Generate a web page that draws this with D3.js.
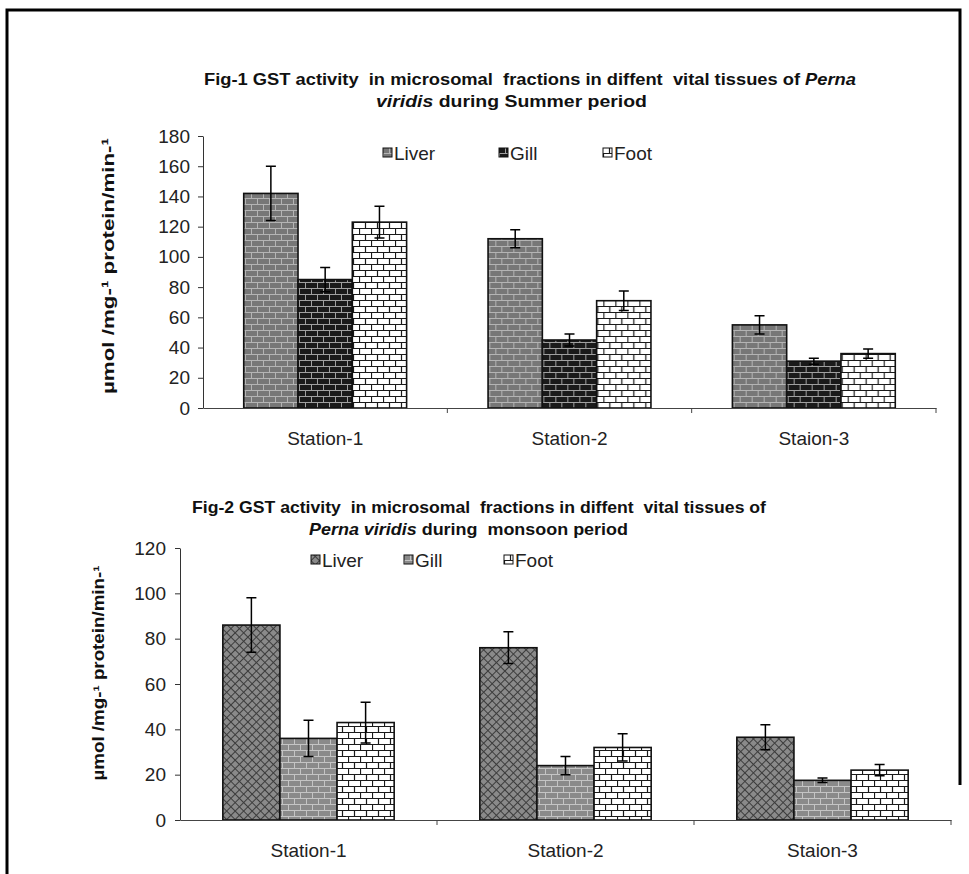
<!DOCTYPE html>
<html><head><meta charset="utf-8">
<script src="https://cdn.jsdelivr.net/npm/d3@7"></script>
<style>body{margin:0;background:#fff}</style>
</head><body><svg id="c" width="969" height="874"></svg>
<script>
// ---------- data ----------
const categories = ["Station-1", "Station-2", "Staion-3"];
const seriesNames = ["Liver", "Gill", "Foot"];

const summerLiver = [142, 112, 55];
const summerGill  = [85, 45, 31];
const summerFoot  = [123, 71, 36];
const summerLiverErr = [18, 6, 6];
const summerGillErr  = [8, 4, 2];
const summerFootErr  = [10.5, 6.5, 3];
const summerTicks = [0, 20, 40, 60, 80, 100, 120, 140, 160, 180];

const monsoonLiver = [86, 76, 36.5];
const monsoonGill  = [36, 24, 17.5];
const monsoonFoot  = [43, 32, 22];
const monsoonLiverErr = [12, 7, 5.5];
const monsoonGillErr  = [8, 4, 1];
const monsoonFootErr  = [9, 6, 2.5];
const monsoonTicks = [0, 20, 40, 60, 80, 100, 120];

const yLabel = "µmol /mg-¹ protein/min-¹";

// ---------- drawing ----------
const svg = d3.select("#c");
const FONT = "'Liberation Sans', Arial, sans-serif";
const defs = svg.append("defs");

function brick(id, fill, mortar, w, h, sw) {
  const p = defs.append("pattern").attr("id", id).attr("patternUnits", "userSpaceOnUse")
    .attr("width", w).attr("height", h * 2);
  p.append("rect").attr("width", w).attr("height", h * 2).attr("fill", fill);
  p.append("path")
    .attr("d", `M0,0.5H${w}M0,${h + 0.5}H${w}M0.5,0V${h}M${w / 2 + 0.5},${h}V${2 * h}`)
    .attr("stroke", mortar).attr("stroke-width", sw).attr("fill", "none");
}
function cross(id, fill, line, s) {
  const p = defs.append("pattern").attr("id", id).attr("patternUnits", "userSpaceOnUse")
    .attr("width", s).attr("height", s).attr("patternTransform", "rotate(45)");
  p.append("rect").attr("width", s).attr("height", s).attr("fill", fill);
  p.append("path").attr("d", `M0,0.5H${s}M0.5,0V${s}`).attr("stroke", line).attr("stroke-width", 1);
}
brick("p1liver", "#777777", "#b4b4b4", 12, 6, 1);
brick("p1gill", "#1a1a1a", "#a0a0a0", 12, 6, 1);
brick("p1foot", "#ffffff", "#1a1a1a", 12, 6, 1.2);
cross("p2liver", "#8a8a8a", "#3c3c3c", 6);
brick("p2gill", "#8a8a8a", "#c4c4c4", 12, 6, 1);
brick("p2foot", "#ffffff", "#1a1a1a", 12, 6, 1.2);

// frame
svg.append("path").attr("d", "M7,874V10H960V785")
  .attr("fill", "none").attr("stroke", "#000").attr("stroke-width", 3);

function drawChart(cfg) {
  const g = svg.append("g");
  const y = d3.scaleLinear().domain([0, cfg.yMax]).range([cfg.yBottom, cfg.yTop]);
  const x = d3.scaleBand().domain(categories).range([cfg.x0, cfg.x1]).paddingInner(0).paddingOuter(0);
  const xs = d3.scaleBand().domain(seriesNames).range([0, x.bandwidth()]).paddingInner(0).paddingOuter(0.75);

  // title
  cfg.title.forEach(t => {
    const tx = g.append("text").attr("x", t.x).attr("y", t.y)
      .style("white-space", "pre")
      .attr("font-family", FONT).attr("font-weight", "bold").attr("font-size", t.size)
      .attr("textLength", t.len).attr("lengthAdjust", "spacingAndGlyphs").attr("fill", "#111");
    t.parts.forEach(p => tx.append("tspan").attr("font-style", p.i ? "italic" : "normal").text(p.s));
  });

  // y axis
  const ya = g.append("g").attr("transform", `translate(${cfg.x0},0)`)
    .call(d3.axisLeft(y).tickValues(cfg.ticks).tickSize(5).tickPadding(cfg.tickPad).tickSizeOuter(0));
  ya.select(".domain").attr("stroke", "#333");
  ya.selectAll(".tick line").attr("stroke", "#333");
  ya.selectAll(".tick text").attr("font-family", FONT).attr("font-size", cfg.tickFont).attr("fill", "#222");

  // bars
  const rows = categories.map((c, i) => ({ c, items: cfg.series.map(s => ({ s, v: s.values[i], e: s.errs[i] })) }));
  const grp = g.selectAll(".grp").data(rows).join("g").attr("transform", d => `translate(${x(d.c)},0)`);
  grp.selectAll("rect").data(d => d.items).join("rect")
    .attr("x", d => xs(d.s.name)).attr("width", xs.bandwidth())
    .attr("y", d => y(d.v)).attr("height", d => y(0) - y(d.v))
    .attr("fill", d => `url(#${d.s.pattern})`).attr("stroke", "#111").attr("stroke-width", 1.6);
  // error bars
  const eb = grp.selectAll(".eb").data(d => d.items).join("g")
    .attr("transform", d => `translate(${xs(d.s.name) + xs.bandwidth() / 2},0)`);
  eb.append("path")
    .attr("d", d => `M0,${y(d.v + d.e)}V${y(d.v - d.e)}M-5,${y(d.v + d.e)}H5M-5,${y(d.v - d.e)}H5`)
    .attr("stroke", "#000").attr("stroke-width", 1.5).attr("fill", "none");

  // x axis
  const xa = g.append("g").attr("transform", `translate(0,${cfg.yBottom})`)
    .call(d3.axisBottom(x).tickSize(0).tickPadding(cfg.xPad).tickSizeOuter(0));
  xa.select(".domain").attr("stroke", "#444");
  xa.selectAll(".tick text").attr("font-family", FONT).attr("font-size", cfg.tickFont).attr("fill", "#222");
  const bounds = categories.map(c => x(c) + x.bandwidth());
  xa.selectAll(".bt").data(bounds).join("line").attr("class", "bt")
    .attr("x1", d => d).attr("x2", d => d).attr("y1", 0).attr("y2", 5).attr("stroke", "#444");

  // legend
  const lg = g.selectAll(".lg").data(cfg.series).join("g")
    .attr("transform", (d, i) => `translate(${cfg.legendX[i]},${cfg.legendY})`);
  lg.append("rect").attr("x", 0).attr("y", -5).attr("width", 9).attr("height", 9)
    .attr("fill", d => `url(#${d.pattern})`).attr("stroke", "#111").attr("stroke-width", 1);
  lg.append("text").attr("x", 11).attr("y", 0).attr("dy", "0.35em")
    .attr("font-family", FONT).attr("font-size", cfg.legendFont).attr("fill", "#222").text(d => d.name);

  // y label
  g.append("text").attr("transform", `translate(${cfg.ylab.x},${cfg.ylab.y}) rotate(-90)`)
    .attr("text-anchor", "middle").attr("font-family", FONT).attr("font-weight", "bold")
    .attr("font-size", cfg.ylab.size).attr("textLength", cfg.ylab.len).attr("lengthAdjust", "spacingAndGlyphs")
    .attr("fill", "#111").text(yLabel);
}

drawChart({
  x0: 203, x1: 936, yTop: 136, yBottom: 408, yMax: 180, ticks: summerTicks,
  tickPad: 8, tickFont: 19, xPad: 24, legendFont: 19,
  series: [
    { name: seriesNames[0], values: summerLiver, errs: summerLiverErr, pattern: "p1liver" },
    { name: seriesNames[1], values: summerGill, errs: summerGillErr, pattern: "p1gill" },
    { name: seriesNames[2], values: summerFoot, errs: summerFootErr, pattern: "p1foot" }
  ],
  legendX: [383, 499, 603], legendY: 153,
  title: [
    { x: 204, y: 85, size: 17, len: 652, parts: [{ s: "Fig-1 GST activity  in microsomal  fractions in diffent  vital tissues of " }, { s: "Perna", i: true }] },
    { x: 376, y: 107, size: 17, len: 271, parts: [{ s: "viridis", i: true }, { s: " during Summer period" }] }
  ],
  ylab: { x: 114, y: 266, size: 17, len: 256 }
});

drawChart({
  x0: 180, x1: 951, yTop: 548, yBottom: 820, yMax: 120, ticks: monsoonTicks,
  tickPad: 9, tickFont: 19, xPad: 24, legendFont: 19,
  series: [
    { name: seriesNames[0], values: monsoonLiver, errs: monsoonLiverErr, pattern: "p2liver" },
    { name: seriesNames[1], values: monsoonGill, errs: monsoonGillErr, pattern: "p2gill" },
    { name: seriesNames[2], values: monsoonFoot, errs: monsoonFootErr, pattern: "p2foot" }
  ],
  legendX: [311, 404, 504], legendY: 560,
  title: [
    { x: 192, y: 513, size: 17, len: 574, parts: [{ s: "Fig-2 GST activity  in microsomal  fractions in diffent  vital tissues of" }] },
    { x: 309, y: 535, size: 17, len: 319, parts: [{ s: "Perna viridis", i: true }, { s: " during  monsoon period" }] }
  ],
  ylab: { x: 104, y: 673, size: 16, len: 215 }
});
</script></body></html>
